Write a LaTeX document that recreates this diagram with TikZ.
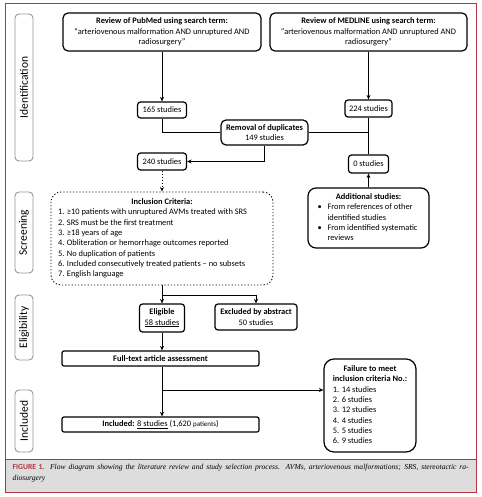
\documentclass[tikz,border=0pt]{standalone}
\usepackage{fontspec}
\usepackage{array}
\setmainfont{Carlito}
\newfontfamily\capfont{Liberation Serif}
\usetikzlibrary{arrows.meta}
\definecolor{framered}{RGB}{178,52,66}
\definecolor{capgray}{RGB}{221,221,221}
\definecolor{sidegray}{RGB}{150,150,150}
\tikzset{
  box/.style={draw, rounded corners=5pt, line width=1.2pt, align=center, inner sep=1pt,
    font=\fontsize{8.4}{10.3}\selectfont},
  sidebox/.style={draw=sidegray, rounded corners=4pt, line width=0.9pt, rotate=90,
    minimum height=18pt, inner sep=0pt, font=\fontsize{11.5}{12}\selectfont, text=black},
  conn/.style={line width=1pt},
  arr/.style={line width=1pt, -{Stealth[length=4.5pt,width=4pt]}},
}
\begin{document}
\begin{tikzpicture}[x=1pt,y=-1pt]
\useasboundingbox (0,0) rectangle (481,497);
% frames
\draw[framered, line width=1pt, fill=white] (5,4) rectangle (476,459);
\draw[framered, line width=1pt, fill=capgray] (5,459) rectangle (476,492);
% side labels
\node[sidebox, minimum width=147pt] (sid) at (24,87.5) {Identification};
\node[sidebox, minimum width=81pt] (sscr) at (24,232.5) {Screening};
\node[sidebox, minimum width=65pt] (selg) at (24,327.5) {Eligibility};
\node[sidebox, minimum width=62pt] (sinc) at (24,421) {Included};
% boxes
\node[box, minimum width=198pt, minimum height=38pt] (pub) at (162,32)
  {\textbf{Review of PubMed using search term:}\\ “arteriovenous malformation AND unruptured AND\\ radiosurgery”};
\node[box, minimum width=197pt, minimum height=38pt] (med) at (368.5,32)
  {\textbf{Review of MEDLINE using search term:}\\ “arteriovenous malformation AND unruptured AND\\ radiosurgery”};
\node[box, rounded corners=3pt, minimum width=49pt, minimum height=16pt] (s165) at (162,110) {165 studies};
\node[box, rounded corners=3pt, minimum width=47pt, minimum height=17pt] (s224) at (368.5,108.5) {224 studies};
\node[box, minimum width=87pt, minimum height=25pt] (rem) at (264.5,132.5) {\textbf{Removal of duplicates}\\149 studies};
\node[box, rounded corners=3pt, minimum width=49pt, minimum height=17pt] (s240) at (162,161.5) {240 studies};
\node[box, rounded corners=3pt, minimum width=40pt, minimum height=18pt] (s0) at (368.5,164) {0 studies};
\node[box, rounded corners=8pt, minimum width=121pt, minimum height=60pt] (add) at (368.5,218)
  {\begin{tabular}{@{}p{10pt}@{}>{\raggedright\arraybackslash}p{92pt}@{}}
    \multicolumn{2}{@{}c@{}}{\textbf{Additional studies:}}\\
    \textbullet & From references of other identified studies\\
    \textbullet & From identified systematic reviews
  \end{tabular}};
\node[box, dotted, line width=0.9pt, rounded corners=10pt, minimum width=222pt, minimum height=93pt] (inc) at (162,238.5)
  {\begin{tabular}{@{}l@{}}
    \makebox[208pt][c]{\textbf{Inclusion Criteria:}}\\
    1. ≥10 patients with unruptured AVMs treated with SRS\\
    2. SRS must be the first treatment\\
    3. ≥18 years of age\\
    4. Obliteration or hemorrhage outcomes reported\\
    5. No duplication of patients\\
    6. Included consecutively treated patients – no subsets\\
    7. English language
  \end{tabular}};
\node[box, rounded corners=3pt, minimum width=45pt, minimum height=28pt] (eli) at (162,318) {\textbf{Eligible}\\\underline{58 studies}};
\node[box, rounded corners=3pt, minimum width=82pt, minimum height=26pt] (exc) at (256,317) {\textbf{Excluded by abstract}\\50 studies};
\node[box, rounded corners=2pt, minimum width=197pt, minimum height=15pt] (ful) at (160.5,358.5) {\textbf{Full-text article assessment}};
\node[box, rounded corners=2pt, minimum width=197pt, minimum height=15pt] (incl) at (160.5,424.5)
  {\textbf{Included:} \underline{8 studies} (1,620 {\fontsize{7}{8}\selectfont patients})};
\node[box, rounded corners=10pt, minimum width=92pt, minimum height=93pt] (fail) at (370,405.5)
  {\begin{tabular}{@{}l@{}}
    \multicolumn{1}{@{}c@{}}{\textbf{Failure to meet}}\\
    \textbf{inclusion criteria No.:}\\
    1. 14 studies\\
    2. 6 studies\\
    3. 12 studies\\
    4. 4 studies\\
    5. 5 studies\\
    6. 9 studies
  \end{tabular}};
% junction coordinates
\coordinate (j1) at (162,295);
\coordinate (j2) at (162,390);
% connectors
\draw[arr] (pub.south) -- (s165.north);
\draw[arr] (med.south) -- (s224.north);
\draw[conn] (s165.south) |- (rem.west);
\draw[conn] (rem.east) -- (rem.east -| s224.south);
\draw[conn] (s224.south) -- (s0.north);
\draw[arr] (rem.south) |- (s240.east);
\draw[arr, dotted] (s240.south) -- (inc.north);
\draw[arr] (add.north) -- (s0.south);
\draw[conn] (inc.south) -- (j1);
\draw[arr] (j1) -- (eli.north);
\draw[arr] (j1) -| (exc.north);
\draw[arr] (eli.south) -- (ful.north -| eli.south);
\draw[arr] (ful.south -| j2) -- (incl.north -| j2);
\draw[arr] (j2) -- (j2 -| fail.west);
% caption
\node[anchor=north west, text width=456pt, inner sep=0pt, align=justify,
  font=\capfont\fontsize{7.6}{11}\selectfont] (cap) at (12.5,463.5)
  {{\rmfamily\bfseries\color{framered}FIGURE 1.} \itshape Flow diagram showing the literature review and study selection process. AVMs, arteriovenous malformations; SRS, stereotactic ra-\linebreak diosurgery};
\end{tikzpicture}
\end{document}
